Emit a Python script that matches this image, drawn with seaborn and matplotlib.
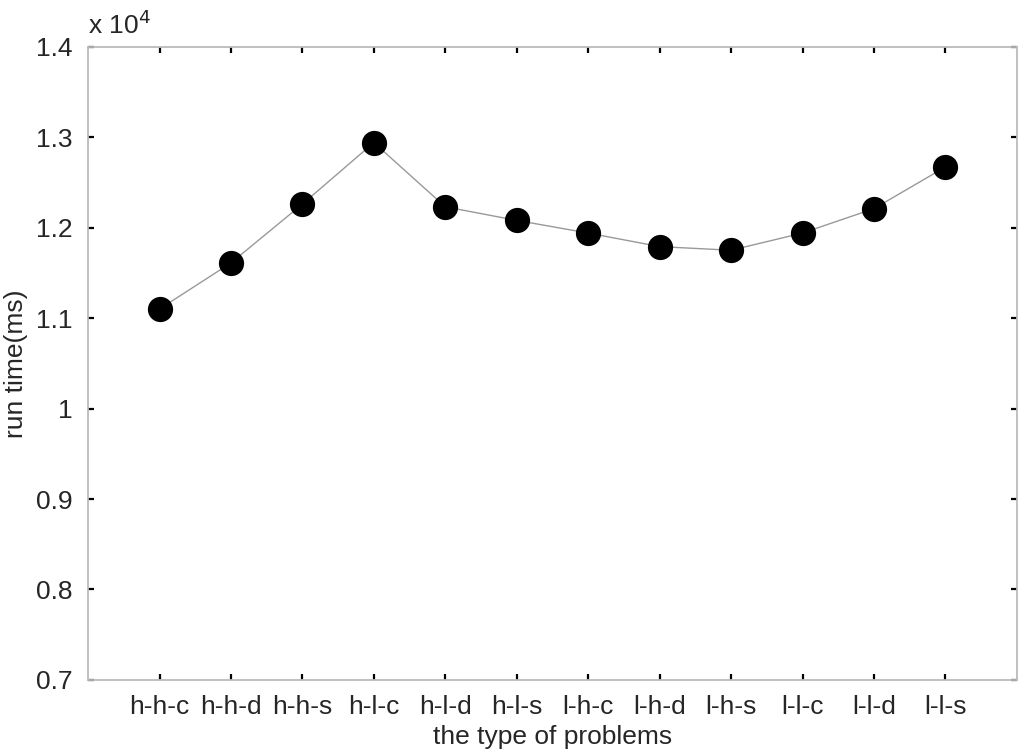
import numpy as np
import pandas as pd
import matplotlib
matplotlib.use("Agg")
import matplotlib.pyplot as plt
import seaborn as sns
from matplotlib.ticker import FuncFormatter

# ── Data ──────────────────────────────────────────────────────────────────
problems = ['h-h-c', 'h-h-d', 'h-h-s', 'h-l-c', 'h-l-d', 'h-l-s',
            'l-h-c', 'l-h-d', 'l-h-s', 'l-l-c', 'l-l-d', 'l-l-s']
run_time = [11100, 11610, 12260, 12940, 12230, 12080,
            11940, 11790, 11750, 11940, 12210, 12670]
y_ticks = [7000, 8000, 9000, 10000, 11000, 12000, 13000, 14000]

df = pd.DataFrame({'pos': np.arange(1, len(problems) + 1),
                   'problem': problems, 'run_time': run_time})

# ── Style ─────────────────────────────────────────────────────────────────
sns.set_style("white")
plt.rcParams['font.family'] = ['Liberation Sans', 'DejaVu Sans']

fig = plt.figure(figsize=(10.24, 7.53), dpi=100)
ax = fig.add_axes([0.086, 0.097, 0.907, 0.841])

sns.lineplot(data=df, x='pos', y='run_time', ax=ax, color='#999999',
             linewidth=1.0, zorder=1)
sns.scatterplot(data=df, x='pos', y='run_time', ax=ax, color='black',
                s=330, edgecolor='black', linewidth=0, zorder=2)

ax.set_xlim(0, len(problems) + 1)
ax.set_ylim(7000, 14000)
ax.set_xticks(df['pos'])
ax.set_xticklabels(problems)
ax.set_yticks(y_ticks)
ax.yaxis.set_major_formatter(FuncFormatter(lambda v, p: f"{v / 1e4:g}"))

ax.tick_params(axis='both', direction='in', length=4, width=1.6,
               color='black', labelsize=19, pad=11,
               top=True, right=True, bottom=True, left=True)

for sp in ax.spines.values():
    sp.set_color('#bbbbbb')
    sp.set_linewidth(1.3)

ax.set_xlabel('the type of problems', fontsize=19, labelpad=4)
ax.set_ylabel('run time(ms)', fontsize=19, labelpad=6)
ax.text(0.0, 1.012, r'x 10$^{4}$', transform=ax.transAxes, fontsize=19,
        ha='left', va='bottom')

fig.savefig("out.png", dpi=100)
